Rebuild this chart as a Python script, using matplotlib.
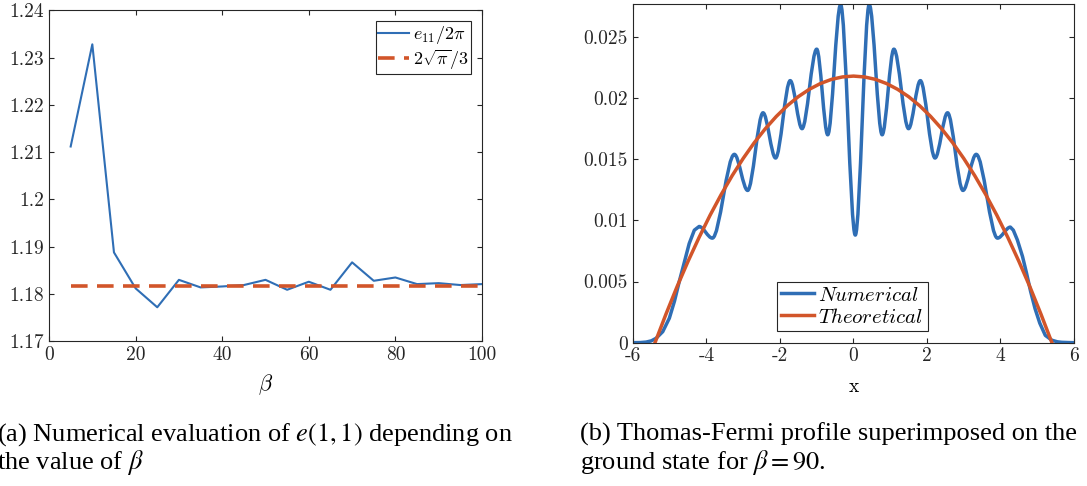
import matplotlib
matplotlib.use('Agg')
import matplotlib.pyplot as plt
from matplotlib.ticker import FuncFormatter
from matplotlib.path import Path
from matplotlib.patches import PathPatch
from matplotlib.lines import Line2D

# ---- data ----
# (a) energy vs beta
beta = [5, 10, 15, 20, 25, 30, 35, 40, 45, 50, 55, 60, 65, 70, 75, 80, 85, 90, 95, 100]
e11 = [1.2112, 1.2328, 1.1888, 1.1812, 1.1772, 1.1830, 1.1814, 1.1816, 1.1819, 1.1830,
       1.1809, 1.1826, 1.1809, 1.1867, 1.1828, 1.1835, 1.1821, 1.1823, 1.1819, 1.1821]
tf_energy = 1.1816

# (b) ground state density, numerical: left tail, oscillation extrema, right tail
left_x = [-6.00, -5.80, -5.64, -5.50, -5.37, -5.19, -5.01, -4.87, -4.74, -4.60, -4.47, -4.33]
left_y = [0.0, 0.00001, 0.00005, 0.00015, 0.00036, 0.0009, 0.0020, 0.0034, 0.0050, 0.0066, 0.0081, 0.0092]
osc_x = [-4.20, -3.84, -3.24, -2.88, -2.46, -2.12, -1.72, -1.40, -1.00, -0.70, -0.35, 0.05,
         0.43, 0.78, 1.10, 1.50, 1.82, 2.22, 2.56, 2.98, 3.34, 3.92, 4.27]
osc_y = [0.0095, 0.00855, 0.0154, 0.01245, 0.0188, 0.0151, 0.02143, 0.0175, 0.0240, 0.0170, 0.02765, 0.0088,
         0.02765, 0.0170, 0.0240, 0.0175, 0.02143, 0.0151, 0.0188, 0.01245, 0.0154, 0.00855, 0.00945]
right_x = [4.35, 4.46, 4.60, 4.71, 4.82, 4.94, 5.07, 5.22, 5.40, 5.55, 5.67, 5.85, 6.00]
right_y = [0.0092, 0.0084, 0.00705, 0.00568, 0.0042, 0.0028, 0.0016, 0.0006, 0.0002, 0.00007, 0.00003, 0.00001, 0.0]

# (b) Thomas-Fermi profile
tf_x = [-5.4, -5.1, -4.8, -4.5, -4.2, -3.9, -3.6, -3.3, -3.0, -2.7, -2.4, -2.1, -1.8, -1.5, -1.2, -0.9, -0.6, -0.3,
        0.0, 0.3, 0.6, 0.9, 1.2, 1.5, 1.8, 2.1, 2.4, 2.7, 3.0, 3.3, 3.6, 3.9, 4.2, 4.5, 4.8, 5.1, 5.4]
tf_y = [0.0, 0.00235, 0.00458, 0.00666, 0.00861, 0.01043, 0.01211, 0.01366, 0.01507, 0.01635, 0.01749, 0.01850,
        0.01938, 0.02012, 0.02072, 0.02119, 0.02153, 0.02173,
        0.0218, 0.02173, 0.02153, 0.02119, 0.02072, 0.02012, 0.01938, 0.01850, 0.01749, 0.01635, 0.01507,
        0.01366, 0.01211, 0.01043, 0.00861, 0.00666, 0.00458, 0.00235, 0.0]

blue = '#2F6EB5'
orange = '#D2552A'
axcol = '#262626'

plt.rcParams['font.family'] = 'cmr10'
plt.rcParams['mathtext.fontset'] = 'cm'
plt.rcParams['axes.unicode_minus'] = False
plt.rcParams['axes.edgecolor'] = axcol
plt.rcParams['axes.linewidth'] = 0.8
for a in ['xtick', 'ytick']:
    plt.rcParams[a + '.direction'] = 'in'
    plt.rcParams[a + '.major.size'] = 3.5
    plt.rcParams[a + '.major.width'] = 0.8
    plt.rcParams[a + '.color'] = axcol
    plt.rcParams[a + '.labelsize'] = 14
plt.rcParams['xtick.top'] = True
plt.rcParams['ytick.right'] = True

fmt = FuncFormatter(lambda v, p: '%g' % round(v, 6))

fig = plt.figure(figsize=(10.87, 4.86), dpi=100)

# ---- (a) ----
ax1 = fig.add_axes([0.0451, 0.2977, 0.3983, 0.6811])
ax1.plot(beta, e11, color=blue, lw=1.5, label=r'$e_{11}/2\pi$')
ax1.plot([beta[0], beta[-1]], [tf_energy, tf_energy], color=orange, lw=2.6,
         dashes=(4.6, 2.6), label=r'$2\sqrt{\pi}/3$')
ax1.set_xlim(0, 100)
ax1.set_ylim(1.17, 1.24)
ax1.set_xticks([0, 20, 40, 60, 80, 100])
ax1.set_yticks([1.17, 1.18, 1.19, 1.2, 1.21, 1.22, 1.23, 1.24])
ax1.xaxis.set_major_formatter(fmt)
ax1.yaxis.set_major_formatter(fmt)
ax1.set_xlabel(r'$\beta$', fontsize=16, labelpad=6)
leg1 = ax1.legend(loc='upper right', fontsize=13, fancybox=False, framealpha=1,
                  edgecolor=axcol, handlelength=1.7, handletextpad=0.2,
                  borderpad=0.15, labelspacing=0.1, borderaxespad=0.6)
leg1.get_frame().set_linewidth(0.8)

# ---- (b) ----
ax2 = fig.add_axes([0.5823, 0.2949, 0.4057, 0.697])

# numerical curve: straight pieces on the tails, smooth arcs between extrema
verts = list(zip(left_x, left_y))
codes = [Path.MOVETO] + [Path.LINETO] * (len(left_x) - 1)
verts.append((osc_x[0], osc_y[0]))
codes.append(Path.LINETO)
for i in range(len(osc_x) - 1):
    xa, ya, xb, yb = osc_x[i], osc_y[i], osc_x[i + 1], osc_y[i + 1]
    d = (xb - xa) / 3
    verts += [(xa + d, ya), (xb - d, yb), (xb, yb)]
    codes += [Path.CURVE4] * 3
verts += list(zip(right_x, right_y))
codes += [Path.LINETO] * len(right_x)
ax2.add_patch(PathPatch(Path(verts, codes), facecolor='none', edgecolor=blue, lw=2.5,
                        joinstyle='round', capstyle='round', zorder=2))

ax2.plot(tf_x, tf_y, color=orange, lw=2.5, zorder=3)
ax2.set_xlim(-6, 6)
ax2.set_ylim(0, 0.0277)
ax2.set_xticks([-6, -4, -2, 0, 2, 4, 6])
ax2.set_yticks([0, 0.005, 0.01, 0.015, 0.02, 0.025])
ax2.xaxis.set_major_formatter(fmt)
ax2.yaxis.set_major_formatter(fmt)
ax2.set_xlabel('x', fontsize=14, labelpad=9)
handles = [Line2D([], [], color=blue, lw=2.5), Line2D([], [], color=orange, lw=2.5)]
leg2 = ax2.legend(handles, [r'$Numerical$', r'$Theoretical$'], loc='center',
                  bbox_to_anchor=(0.497, 0.107), fontsize=15, fancybox=False,
                  framealpha=1, edgecolor=axcol, handlelength=1.6, handletextpad=0.2,
                  borderpad=0.2, labelspacing=0.15)
leg2.get_frame().set_linewidth(0.8)

# ---- captions ----
cap = dict(family='Liberation Serif', math_fontfamily='stix', fontsize=19, va='baseline', ha='left')
fig.text(-0.003, 0.0936, r'(a) Numerical evaluation of $e(1,1)$ depending on', **cap)
fig.text(-0.003, 0.036, r'the value of $\beta$', **cap)
fig.text(0.5336, 0.0936, '(b) Thomas-Fermi profile superimposed on the', **cap)
fig.text(0.5336, 0.036, r'ground state for $\beta = 90$.', **cap)

fig.savefig('out.png', dpi=100)
